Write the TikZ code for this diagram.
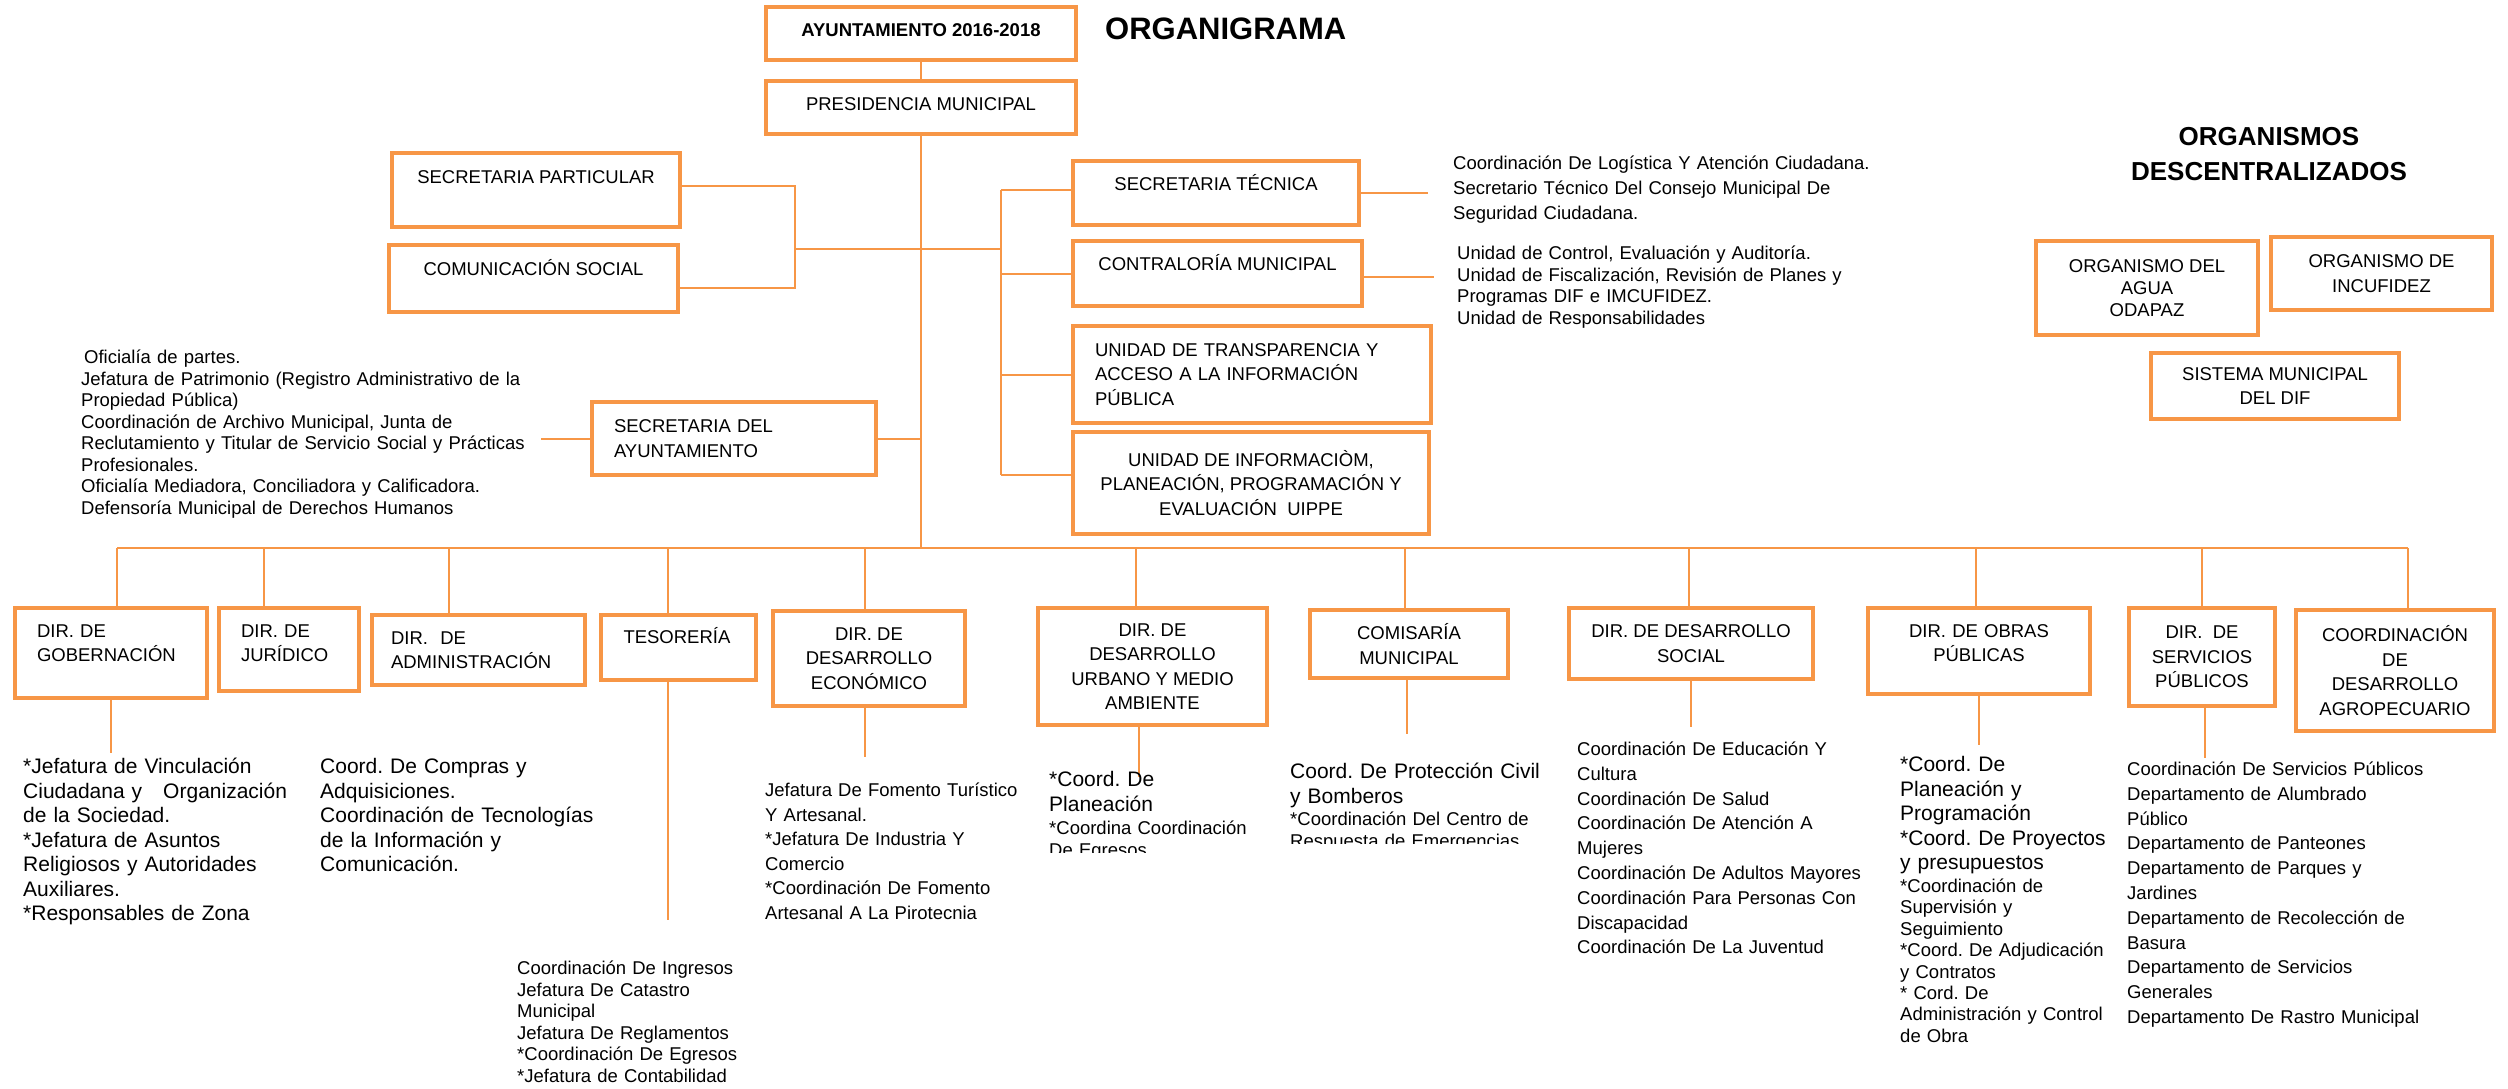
\documentclass[tikz,border=0pt]{standalone}
\usepackage{fontspec}
\setmainfont{Liberation Sans}
\usepackage{tikz}
\usetikzlibrary{positioning}
\usetikzlibrary{calc}

\definecolor{orgorange}{HTML}{F79646}
\newcommand{\boxfont}{\fontsize{18.5}{24.5}\selectfont}
\frenchspacing

\tikzset{
  box/.style={draw=orgorange, line width=4.5pt, inner sep=0pt, font=\boxfont, align=center},
  lbox/.style={box, align=left, text width=#1},
  cbox/.style={box, align=center, text width=#1},
  lifted/.style={text height=13pt, text depth=#1},
  link/.style={draw=orgorange, line width=2pt},
  list/.style={anchor=base west, inner sep=0pt, align=left, text width=560pt, font=\fontsize{18.5}{#1}\selectfont},
  list/.default=21.5,
  biglist/.style={anchor=base west, inner sep=0pt, align=left, text width=560pt, font=\fontsize{21}{24.5}\selectfont},
}

\begin{document}
\begin{tikzpicture}[x=1pt,y=1pt]
\useasboundingbox (0,0) rectangle (2508,-1088);
\fill[white] (0,0) rectangle (2508,-1088);

% cabecera
\node[box, minimum width=310, minimum height=53, lifted=7, font=\boxfont\bfseries] (ayunt) at (921,-33.5) {AYUNTAMIENTO 2016-2018};
\node[anchor=west, inner sep=0pt, font=\fontsize{31}{36}\selectfont\bfseries] (titulo) at (1105,-29) {ORGANIGRAMA};
\node[box, minimum width=310, minimum height=53, lifted=7] (pres) at (921,-107.5) {PRESIDENCIA MUNICIPAL};

% staff
\node[box, minimum width=288, minimum height=74, lifted=26] (sp) at (536,-190) {SECRETARIA PARTICULAR};
\node[box, minimum width=289, minimum height=67, lifted=19] (cs) at (533.5,-278.5) {COMUNICACIÓN SOCIAL};
\node[box, minimum width=286, minimum height=64, lifted=18] (st) at (1216,-193) {SECRETARIA TÉCNICA};
\node[box, minimum width=289, minimum height=65, lifted=19] (cm) at (1217.5,-273.5) {CONTRALORÍA MUNICIPAL};
\node[lbox=314, minimum width=358, minimum height=97] (ut) at (1252,-374.5) {UNIDAD DE TRANSPARENCIA Y\\ACCESO A LA INFORMACIÓN\\PÚBLICA};
\node[box, minimum width=356, minimum height=102] (ui) at (1251,-483) {UNIDAD DE INFORMACIÒM,\\PLANEACIÓN, PROGRAMACIÓN Y\\EVALUACIÓN\ \ UIPPE};
\node[lbox=240, minimum width=284, minimum height=73] (sa) at (734,-438.5) {SECRETARIA DEL\\AYUNTAMIENTO};

% organismos descentralizados
\node[inner sep=0pt, align=center, font=\fontsize{26}{35}\selectfont\bfseries] (orgtit) at (2269,-154.5) {ORGANISMOS\\DESCENTRALIZADOS};
\node[box, minimum width=222, minimum height=94, font=\fontsize{18.5}{22}\selectfont] (agua) at (2147,-288) {ORGANISMO DEL\\AGUA\\ODAPAZ};
\node[box, minimum width=221, minimum height=73] (incu) at (2381.5,-273.5) {ORGANISMO DE\\INCUFIDEZ};
\node[box, minimum width=248, minimum height=66] (dif) at (2275,-386) {SISTEMA MUNICIPAL\\DEL DIF};

% direcciones
\node[lbox=148, minimum width=192, minimum height=90, lifted=44.5] (gob) at (111,-653) {DIR. DE\\GOBERNACIÓN};
\node[lbox=96, minimum width=140, minimum height=83, lifted=37.5] (jur) at (289,-649.5) {DIR. DE\\JURÍDICO};
\node[lbox=175, minimum width=213, minimum height=70] (adm) at (478.5,-650) {DIR.\ \ DE\\ADMINISTRACIÓN};
\node[lbox=110, minimum width=155, minimum height=65, lifted=21] (tes) at (678.5,-647.5) {TESORERÍA};
\node[box, minimum width=192, minimum height=95] (econ) at (869,-658.5) {DIR. DE\\DESARROLLO\\ECONÓMICO};
\node[box, minimum width=229, minimum height=117] (urb) at (1152.5,-666.5) {DIR. DE\\DESARROLLO\\URBANO Y MEDIO\\AMBIENTE};
\node[box, minimum width=198, minimum height=68] (com) at (1409,-644) {COMISARÍA\\MUNICIPAL};
\node[box, minimum width=244, minimum height=71] (soc) at (1691,-643.5) {DIR. DE DESARROLLO\\SOCIAL};
\node[cbox=200, minimum width=222, minimum height=86, lifted=40.5] (obr) at (1979,-651) {DIR. DE OBRAS\\PÚBLICAS};
\node[box, minimum width=146, minimum height=98] (serv) at (2202,-657) {DIR.\ \ DE\\SERVICIOS\\PÚBLICOS};
\node[box, minimum width=198, minimum height=121] (agro) at (2395,-670.5) {COORDINACIÓN\\DE\\DESARROLLO\\AGROPECUARIO};

% conectores
\coordinate (bus) at (0,-548);
\coordinate (lb) at (795,-249);
\coordinate (rb) at (1001,-249);
\coordinate (rtop) at (1001,-190);
\coordinate (rbot) at (1001,-475);
\draw[link] (ayunt) -- (pres);
\draw[link] (pres.south) -- (pres.south |- bus);
\draw[link] ([yshift=4pt]sp.east) -| (lb) |- ([yshift=-9.5pt]cs.east);
\draw[link] (lb) -- (rb);
\draw[link] (rtop) -- (rbot);
\draw[link] (rtop) -- (rtop -| st.west);
\draw[link] (cm.west) -- (cm.west -| rb);
\draw[link] (ut.west) -- (ut.west -| rb);
\draw[link] (rbot) -- (rbot -| ui.west);
\draw[link] (st.east) -- ++(67,0);
\draw[link] ([yshift=-3.5pt]cm.east) -- ++(70,0);
\draw[link] (sa.west) -- ++(-49,0);
\draw[link] (sa.east) -- (sa.east -| pres.south);
\draw[link] ([xshift=6pt]gob.north |- bus) -- ([xshift=13pt]agro.north |- bus);
\foreach \n/\s in {gob/6,jur/-25,adm/-30,tes/-11,econ/-4,urb/-17,com/-4,soc/-2,obr/-3,serv/0,agro/13}
  \draw[link] ([xshift=\s pt]\n.north) -- ([xshift=\s pt]\n.north |- bus);
\draw[link] (gob.south) -- ++(0,-53);
\draw[link] ([xshift=-11pt]tes.south) -- ++(0,-238);
\draw[link] ([xshift=-4pt]econ.south) -- ++(0,-49);
\draw[link] ([xshift=-14pt]urb.south) -- ++(0,-50);
\draw[link] ([xshift=-2pt]com.south) -- ++(0,-54);
\draw[link] (soc.south) -- ++(0,-46);
\draw[link] (obr.south) -- ++(0,-49);
\draw[link] ([xshift=3pt]serv.south) -- ++(0,-50);

% listas
\node[list] (salist) at (81,-363.5) {\hspace{3pt}Oficialía de partes.\\Jefatura de Patrimonio (Registro Administrativo de la\\Propiedad Pública)\\Coordinación de Archivo Municipal, Junta de\\Reclutamiento y Titular de Servicio Social y Prácticas\\Profesionales.\\Oficialía Mediadora, Conciliadora y Calificadora.\\Defensoría Municipal de Derechos Humanos};
\node[list=25] (stlist) at (1453,-169.5) {Coordinación De Logística Y Atención Ciudadana.\\Secretario Técnico Del Consejo Municipal De\\Seguridad Ciudadana.};
\node[list=21.7] (cmlist) at (1457,-259.5) {Unidad de Control, Evaluación y Auditoría.\\Unidad de Fiscalización, Revisión de Planes y\\Programas DIF e IMCUFIDEZ.\\Unidad de Responsabilidades};
\node[biglist] (goblist) at (23,-773.5) {*Jefatura de Vinculación\\Ciudadana y\ \ \ Organización\\de la Sociedad.\\{}*Jefatura de Asuntos\\Religiosos y Autoridades\\Auxiliares.\\{}*Responsables de Zona};
\node[biglist] (admlist) at (320,-773.5) {Coord. De Compras y\\Adquisiciones.\\Coordinación de Tecnologías\\de la Información y\\Comunicación.};
\node[list=21.6] (teslist) at (517,-974.5) {Coordinación De Ingresos\\Jefatura De Catastro\\Municipal\\Jefatura De Reglamentos\\{}*Coordinación De Egresos\\{}*Jefatura de Contabilidad};
\node[list=24.6] (econlist) at (765,-796.5) {Jefatura De Fomento Turístico\\Y Artesanal.\\{}*Jefatura De Industria Y\\Comercio\\{}*Coordinación De Fomento\\Artesanal A La Pirotecnia};
\node[biglist] (urblist) at (1049,-786.5) {*Coord. De\\Planeación};
\begin{scope}
  \clip (1040,-810) rectangle (1300,-852);
  \node[list] (urblistb) at (1049,-834.5) {*Coordina Coordinación\\De Egresos};
\end{scope}
\node[biglist] (comlist) at (1290,-778.5) {Coord. De Protección Civil\\y Bomberos};
\begin{scope}
  \clip (1280,-800) rectangle (1560,-843);
  \node[list] (comlistb) at (1290,-825.5) {*Coordinación Del Centro de\\Respuesta de Emergencias};
\end{scope}
\node[list=24.8] (soclist) at (1577,-755.5) {Coordinación De Educación Y\\Cultura\\Coordinación De Salud\\Coordinación De Atención A\\Mujeres\\Coordinación De Adultos Mayores\\Coordinación Para Personas Con\\Discapacidad\\Coordinación De La Juventud};
\node[biglist] (obrlist) at (1900,-771.5) {*Coord. De\\Planeación y\\Programación\\{}*Coord. De Proyectos\\y presupuestos};
\node[list=21.4] (obrlistb) at (1900,-892.5) {*Coordinación de\\Supervisión y\\Seguimiento\\{}*Coord. De Adjudicación\\y Contratos\\{}* Cord. De\\Administración y Control\\de Obra};
\node[list=24.8] (servlist) at (2127,-775.5) {Coordinación De Servicios Públicos\\Departamento de Alumbrado\\Público\\Departamento de Panteones\\Departamento de Parques y\\Jardines\\Departamento de Recolección de\\Basura\\Departamento de Servicios\\Generales\\Departamento De Rastro Municipal};
\end{tikzpicture}
\end{document}
